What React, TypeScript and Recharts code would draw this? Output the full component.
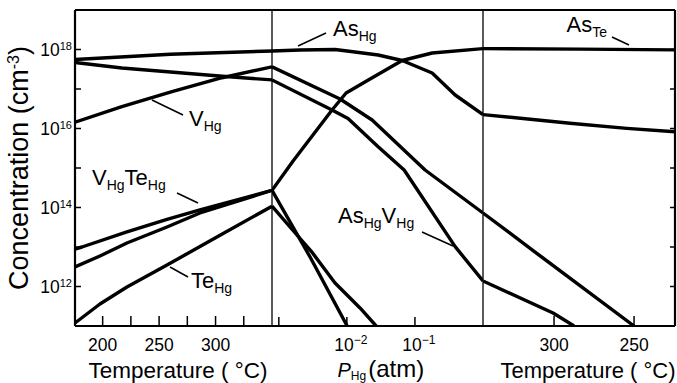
import React from 'react'
import { LineChart, Line, XAxis, YAxis, ReferenceLine } from 'recharts'

// left panel: temperature (°C) vs concentration (cm^-3)
const leftAsHg = [[175.5, 5.6e17], [260, 7.6e17], [350, 9.2e17]]
const leftPair = [[175.5, 4.7e17], [217, 3.4e17], [306, 2.1e17], [350, 1.7e17]]
const leftVHg = [[175.5, 1.44e16], [217, 3.56e16], [261.4, 8.55e16], [305.7, 1.93e17], [350, 3.64e17]]
const leftAsTe = [[175.5, 8.9e12], [181.7, 1.0e13], [221.5, 2.4e13], [257, 4.97e13], [286.2, 8.65e13], [350, 2.72e14]]
const leftVTe = [[175.5, 3.12e12], [197.6, 5.92e12], [221.5, 1.26e13], [257, 3.21e13], [286.2, 7.26e13], [350, 2.72e14]]
const leftTeHg = [[175.5, 1.19e11], [197.6, 3.61e11], [221.5, 9.7e11], [257, 3.5e12], [301.2, 1.79e13], [350, 1.08e14]]

// middle panel: Hg pressure (atm)
const midAsHg = [[0.000794, 9.2e17], [0.00205, 9.7e17], [0.0067, 1.0e18], [0.0115, 8.9e17], [0.0288, 7.26e17], [0.0649, 5.27e17], [0.179, 2.54e17], [0.39, 7.05e16], [1, 2.25e16]]
const midAsTe = [[0.000794, 2.72e14], [0.00162, 1.5e15], [0.00605, 2.94e16], [0.00973, 7.93e16], [0.0219, 1.79e17], [0.0649, 5.27e17], [0.179, 8.15e17], [1, 1.05e18]]
const midVHg = [[0.000794, 3.64e17], [0.00794, 5.59e16], [0.0235, 1.64e16], [0.141, 8.9e14], [1, 7.26e13]]
const midPair = [[0.000794, 1.7e17], [0.00605, 2.94e16], [0.0104, 1.79e16], [0.0288, 3.46e15], [0.0694, 8.9e14], [0.39, 1.02e13], [1, 1.38e12]]
const midVTe = [[0.000794, 2.72e14], [0.00288, 5.58e12], [0.0101, 1e11]]
const midTeHg = [[0.000794, 1.08e14], [0.00146, 3.21e13], [0.00298, 7.9e12], [0.0067, 1.23e12], [0.0156, 2.86e11], [0.0269, 1e11]]

// right panel: temperature (°C), decreasing to the right
const rightAsTe = [[344.4, 1.05e18], [283.75, 1.02e18], [224.4, 9.8e17]]
const rightAsHg = [[344.4, 2.25e16], [290, 1.36e16], [254.6, 1.01e16], [224.4, 8.3e15]]
const rightVHg = [[344.4, 7.26e13], [310.6, 6.84e12], [250, 1e11]]
const rightPair = [[344.4, 1.38e12], [300.6, 2.13e11], [287.5, 1e11]]

const leftTicks = [200, 225, 250, 275, 300, 325]
const leftLabels = [200, 250, 300]
const pTicks = [0.001, 0.01, 0.1]
const pLabels = [0.01, 0.1]
const rightTicks = [300, 250]
const concTicks = [1e12, 1e13, 1e14, 1e15, 1e16, 1e17, 1e18]

const concDomain = [1e11, 1e19]
const leftDomain = [175.5, 350]
const pDomain = [0.000794, 1]
const rightDomain = [224.4, 344.4]

const FONT = '"Liberation Sans", Arial, Helvetica, sans-serif'
const INK = '#000'
const H = 383
const AXIS_H = 57
// the top axis takes 1px, so the plot starts at y = 10
const M = { top: 9, bottom: 0 }

const toPts = (arr: number[][]) => arr.map(([x, c]) => ({ x, c }))

const curve = (name: string, pts: number[][]) => (
  <Line
    key={name}
    name={name}
    xAxisId="b"
    data={toPts(pts)}
    dataKey="c"
    type="linear"
    stroke={INK}
    strokeWidth={3.4}
    strokeLinejoin="round"
    dot={false}
    activeDot={false}
    isAnimationActive={false}
  />
)

const exp10 = (v: number) => Math.round(Math.log10(v))
const tickStroke = { stroke: INK, strokeWidth: 1.5 }
const Blank = () => <g />

const edge = (key: string, props: any, w = 2.2) => (
  <ReferenceLine key={key} xAxisId="b" stroke={INK} strokeWidth={w} ifOverflow="visible" {...props} />
)

// ticks point inward (negative tickSize), so x arrives 6px inside the frame
function LeftTick(props: any) {
  const { x, y, payload } = props
  const e = exp10(payload.value)
  if (e % 2 !== 0) return <g />
  return (
    <text x={x - 9} y={y + 6} textAnchor="end" fontSize={17.5} fontFamily={FONT} fill={INK}>
      10<tspan dy={-6} fontSize={11}>{e}</tspan>
    </text>
  )
}

// y arrives at the inner end of the tick, len px above the frame
const bottomTick = (labelled: number[], label: (v: number) => React.ReactNode, dx = 0, len = 10) =>
  (props: any) => {
    const { x, y, payload } = props
    const v = payload.value
    if (!labelled.some((l) => Math.abs(l - v) < 1e-9)) return <g />
    return (
      <text x={x + dx} y={y + len + 25} textAnchor="middle" fontSize={17.5} fontFamily={FONT} fill={INK}>
        {label(v)}
      </text>
    )
  }

const plain = (v: number) => String(v)
const power = (v: number) => (
  <>
    10<tspan dy={-7} fontSize={12}>{'\u2212' + -exp10(v)}</tspan>
  </>
)

function Note({ x, y, parts }: { x: number; y: number; parts: [string, string][] }) {
  return (
    <text x={x} y={y} fontSize={22} fontFamily={FONT} fill={INK}>
      {parts.map(([main, sub], i) => (
        <React.Fragment key={i}>
          <tspan dy={i === 0 ? 0 : -5}>{main}</tspan>
          <tspan dy={5} fontSize={14}>{sub}</tspan>
        </React.Fragment>
      ))}
    </text>
  )
}

const axisBase = { tickLine: tickStroke, axisLine: false, tickMargin: 0, interval: 0 as const, allowDataOverflow: true }

export default function App() {
  return (
    <div style={{ position: 'absolute', left: 0, top: 0, width: 677, height: H, background: '#fff', fontFamily: FONT }}>
      <div style={{ position: 'absolute', left: 0, top: 0 }}>
        <LineChart width={274} height={H} margin={{ ...M, left: 0, right: 2 }}>
          <XAxis xAxisId="b" type="number" dataKey="x" domain={leftDomain} ticks={leftTicks} height={AXIS_H}
            {...axisBase} tickSize={-10} tick={bottomTick(leftLabels, plain)} />
          <XAxis xAxisId="t" orientation="top" type="number" domain={leftDomain} ticks={leftTicks} height={1}
            {...axisBase} tickSize={-7} tick={Blank} />
          <YAxis type="number" scale="log" domain={concDomain} ticks={concTicks} width={75}
            {...axisBase} tickSize={-6} tick={LeftTick} />
          {edge('top', { y: concDomain[1] })}
          {edge('bottom', { y: concDomain[0] })}
          {edge('left', { x: leftDomain[0] })}
          {curve('As_Hg', leftAsHg)}
          {curve('As_Hg V_Hg', leftPair)}
          {curve('V_Hg', leftVHg)}
          {curve('As_Te', leftAsTe)}
          {curve('V_Hg Te_Hg', leftVTe)}
          {curve('Te_Hg', leftTeHg)}
        </LineChart>
      </div>

      <div style={{ position: 'absolute', left: 270, top: 0 }}>
        <LineChart width={215} height={H} margin={{ ...M, left: 2, right: 2 }}>
          <XAxis xAxisId="b" type="number" dataKey="x" scale="log" domain={pDomain} ticks={pTicks} height={AXIS_H}
            {...axisBase} tickSize={-9} tick={bottomTick(pLabels, power, 4, 9)} />
          <XAxis xAxisId="t" orientation="top" type="number" scale="log" domain={pDomain} ticks={pTicks} height={1}
            {...axisBase} tickSize={-9} tick={Blank} />
          <YAxis hide type="number" scale="log" domain={concDomain} allowDataOverflow />
          {edge('top', { y: concDomain[1] })}
          {edge('bottom', { y: concDomain[0] })}
          {edge('lo', { x: pDomain[0] }, 1.3)}
          {edge('hi', { x: pDomain[1] }, 1.3)}
          {curve('As_Hg', midAsHg)}
          {curve('As_Te', midAsTe)}
          {curve('V_Hg', midVHg)}
          {curve('As_Hg V_Hg', midPair)}
          {curve('V_Hg Te_Hg', midVTe)}
          {curve('Te_Hg', midTeHg)}
        </LineChart>
      </div>

      <div style={{ position: 'absolute', left: 481, top: 0 }}>
        <LineChart width={196} height={H} margin={{ ...M, left: 2, right: 1 }}>
          <XAxis xAxisId="b" type="number" dataKey="x" reversed domain={rightDomain} ticks={rightTicks} height={AXIS_H}
            {...axisBase} tickSize={-10} tick={bottomTick(rightTicks, plain)} />
          <XAxis xAxisId="t" orientation="top" type="number" reversed domain={rightDomain} ticks={rightTicks} height={1}
            {...axisBase} tickSize={-10} tick={Blank} />
          <YAxis orientation="right" type="number" scale="log" domain={concDomain} ticks={concTicks} width={1}
            {...axisBase} tickSize={-5} tick={Blank} />
          {edge('top', { y: concDomain[1] })}
          {edge('bottom', { y: concDomain[0] })}
          {edge('right', { x: rightDomain[0] })}
          {curve('As_Te', rightAsTe)}
          {curve('As_Hg', rightAsHg)}
          {curve('V_Hg', rightVHg)}
          {curve('As_Hg V_Hg', rightPair)}
        </LineChart>
      </div>

      <svg width={677} height={H} style={{ position: 'absolute', left: 0, top: 0, pointerEvents: 'none' }}>
        <text transform="rotate(-90)" x={-168} y={28} textAnchor="middle" fontSize={27} fontFamily={FONT} fill={INK}>
          Concentration (cm<tspan dy={-9} fontSize={16}>-3</tspan><tspan dy={9}>)</tspan>
        </text>
        <text x={178} y={378} textAnchor="middle" fontSize={22.5} fontFamily={FONT} fill={INK}>Temperature ( °C)</text>
        <text x={588} y={378} textAnchor="middle" fontSize={22} fontFamily={FONT} fill={INK}>Temperature ( °C)</text>
        <text x={337.5} y={377} fontSize={20} fontFamily={FONT} fill={INK}>
          <tspan fontStyle="italic">P</tspan>
          <tspan fontSize={12} dy={3}>Hg</tspan>
          <tspan dy={-3} dx={2} fontSize={24}>(atm)</tspan>
        </text>

        <g stroke={INK} strokeWidth={1.5}>
          <line x1={152} y1={100} x2={183} y2={115} />
          <line x1={177} y1={193} x2={198} y2={203} />
          <line x1={170} y1={267} x2={188} y2={277} />
          <line x1={298} y1={46} x2={326} y2={33} />
          <line x1={422} y1={232} x2={453} y2={246} />
          <line x1={612} y1={37} x2={629} y2={45} />
        </g>
        <Note x={189} y={126} parts={[['V', 'Hg']]} />
        <Note x={92} y={185} parts={[['V', 'Hg'], ['Te', 'Hg']]} />
        <Note x={191} y={288} parts={[['Te', 'Hg']]} />
        <Note x={333} y={36} parts={[['As', 'Hg']]} />
        <Note x={338} y={223} parts={[['As', 'Hg'], ['V', 'Hg']]} />
        <Note x={566.5} y={31.5} parts={[['As', 'Te']]} />
      </svg>
    </div>
  )
}
